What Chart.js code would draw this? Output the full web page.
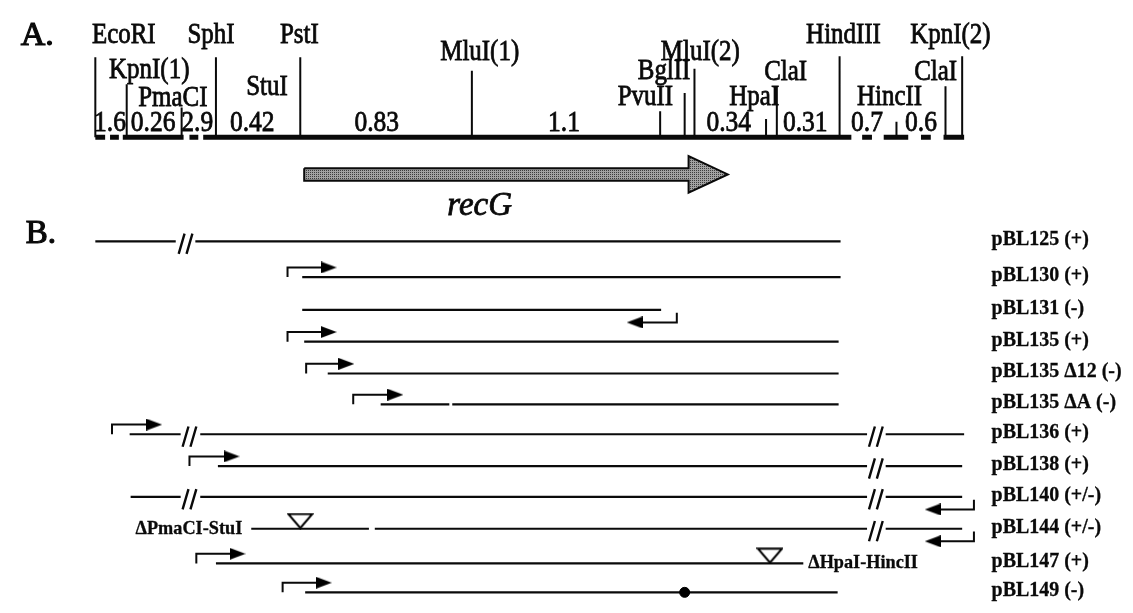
<!DOCTYPE html>
<html>
<head>
<meta charset="utf-8">
<script src="https://cdn.jsdelivr.net/npm/chart.js@4"></script>
<style>
  html, body { margin: 0; padding: 0; background: #fff; }
  #wrap { width: 1133px; height: 613px; position: relative; }
</style>
</head>
<body>
<div id="wrap"><canvas id="map"></canvas></div>
<script>
// A. restriction map  (x = position along the map, y = row on the page)
const mapY = 131
const mapPieces = [[86,96],[101,110],[114,176],[182,191],[196,857],[868,878],[890,915],[928,938],[951,972]]
const siteX   = [86, 118, 174, 209, 295, 470, 662, 687, 697, 770, 781, 845, 903, 953, 970]
const siteTop = [48, 76, 100, 48, 48, 62, 104, 85, 60, 112, 78, 47, 115, 78, 47]

const siteLabels = ['EcoRI','KpnI(1)','PmaCI','SphI','StuI','PstI','MluI(1)','PvuII','BglII','MluI(2)','HpaI','ClaI','HindIII','HincII','ClaI','KpnI(2)']
const siteLabelX = [115, 141, 165, 204, 261, 294, 478, 647, 666, 703, 758, 790, 849, 896, 943, 958]
const siteLabelY = [33, 69, 99, 33, 87, 33, 51, 97, 71, 51, 97, 72, 33, 97, 72, 33]

const fragSizes = ['1.6','0.26','2.9','0.42','0.83','1.1','0.34','0.31','0.7','0.6']
const fragX     = [101, 145, 190, 246, 373, 564, 732, 810, 873, 928]
const fragY = 124

const geneName = 'recG'
const geneStart = 299, geneEnd = 731, geneY = 169.5

// B. subclones
const constructs = ['pBL125 (+)','pBL130 (+)','pBL131 (-)','pBL135 (+)','pBL135 Δ12 (-)','pBL135 ΔA (-)',
                    'pBL136 (+)','pBL138 (+)','pBL140 (+/-)','pBL144 (+/-)','pBL147 (+)','pBL149 (-)']
const rowY = [239, 276, 310, 343, 376, 408, 439, 472, 504, 537, 573, 603]
const spans = [
  [[86,168],[188,846]],
  [[297,846]],
  [[297,663]],
  [[299,844]],
  [[323,844]],
  [[377,447],[450,844]],
  [[121,173],[193,873],[892,972]],
  [[211,873],[892,970]],
  [[122,173],[193,873],[892,970]],
  [[245,365],[371,873],[892,970]],
  [[209,808]],
  [[300,843]]
]
const breaks = [[0,178],[6,182],[6,882],[7,882],[8,182],[8,882],[9,882]]        // [row, x]
const fwdPromoters = [[1,282,332],[3,282,332],[4,301,350],[5,349,400],[6,103,154],[7,182,233],[10,189,239],[11,277,327]] // [row, bend x, tip x]
const revPromoters = [[2,679,628],[8,982,932],[9,982,932]]
const deletions = [[9,295],[10,774]]                                            // [row, x]
const deletionNames = [[9,'ΔPmaCI-StuI',127],[10,'ΔHpaI-HincII',813]]
const mutations = [[11,687]]

// helpers
function polylines(list) {
  const out = []
  list.forEach(pl => {
    pl.forEach(p => out.push({x: p[0], y: p[1]}))
    out.push({x: pl[0][0], y: null})
  })
  return out
}

function sprite(w, h, draw) {
  const c = document.createElement('canvas')
  c.width = w; c.height = h
  draw(c.getContext('2d'))
  return c
}
const headRight = sprite(16, 12, g => { g.fillStyle = '#000'; g.beginPath(); g.moveTo(0,0); g.lineTo(16,6); g.lineTo(0,12); g.closePath(); g.fill() })
const headLeft  = sprite(16, 12, g => { g.fillStyle = '#000'; g.beginPath(); g.moveTo(16,0); g.lineTo(0,6); g.lineTo(16,12); g.closePath(); g.fill() })
const delta = sprite(27, 17, g => {
  g.fillStyle = '#fff'; g.strokeStyle = '#000'; g.lineWidth = 2
  g.beginPath(); g.moveTo(1.5,1.5); g.lineTo(25.5,1.5); g.lineTo(13.5,15.5); g.closePath(); g.fill(); g.stroke()
})
const stipple = (() => {
  const c = sprite(4, 4, g => {
    g.fillStyle = '#a2a2a2'; g.fillRect(0,0,4,4)
    g.fillStyle = '#3c3c3c'; g.fillRect(0,0,1,1); g.fillRect(2,2,1,1); g.fillRect(2,0,1,1); g.fillRect(0,2,1,1)
  })
  return document.getElementById('map').getContext('2d').createPattern(c, 'repeat')
})()

// build line data
const baseData = polylines(mapPieces.map(p => [[p[0], mapY], [p[1], mapY]]))
const tickData = polylines(siteX.map((x, i) => [[x, mapY], [x, siteTop[i]]]))

const geneHalf = 6.5, geneHead = 19, geneHeadLen = 40
const geneData = [
  {x: geneStart, y: geneY - geneHalf}, {x: geneEnd - geneHeadLen, y: geneY - geneHalf},
  {x: geneEnd - geneHeadLen, y: geneY - geneHead}, {x: geneEnd, y: geneY},
  {x: geneEnd - geneHeadLen, y: geneY + geneHead}, {x: geneEnd - geneHeadLen, y: geneY + geneHalf},
  {x: geneStart, y: geneY + geneHalf}, {x: geneStart, y: geneY - geneHalf}
]

const cloneLines = []
spans.forEach((row, i) => row.forEach(s => cloneLines.push([[s[0], rowY[i]], [s[1], rowY[i]]])))
const cloneData = polylines(cloneLines)

const slashLines = []
breaks.forEach(([r, bx]) => {
  const y = rowY[r]
  slashLines.push([[bx - 7, y + 13], [bx - 1, y - 8]])
  slashLines.push([[bx + 1, y + 13], [bx + 7, y - 8]])
})
const slashData = polylines(slashLines)

const bendLines = [], fwdHeads = [], revHeads = []
fwdPromoters.forEach(([r, bx, tip]) => {
  const y = rowY[r]
  bendLines.push([[bx, y], [bx, y - 10], [tip - 14, y - 10]])
  fwdHeads.push({x: tip - 8, y: y - 10})
})
revPromoters.forEach(([r, bx, tip]) => {
  const y = rowY[r]
  bendLines.push([[bx, y + 3], [bx, y + 13], [tip + 14, y + 13]])
  revHeads.push({x: tip + 8, y: y + 13})
})
const bendData = polylines(bendLines)

const deltaData = deletions.map(([r, x]) => ({x, y: rowY[r] - 8}))
const dotData = mutations.map(([r, x]) => ({x, y: rowY[r]}))

// text
const serif = '"Liberation Serif", "Times New Roman", serif'
const textPlugin = {
  id: 'mapText',
  afterDatasetsDraw(chart) {
    const {ctx, scales: {x, y}} = chart
    const put = (str, vx, vy, font, align, sx, heavy) => {
      ctx.save()
      ctx.font = font
      ctx.textAlign = align
      ctx.textBaseline = 'alphabetic'
      ctx.fillStyle = '#0a0a0a'
      ctx.strokeStyle = '#0a0a0a'
      ctx.translate(x.getPixelForValue(vx), y.getPixelForValue(vy))
      ctx.scale(sx, 1)
      ctx.fillText(str, 0, 0)
      if (heavy) { ctx.lineWidth = heavy; ctx.strokeText(str, 0, 0) }
      ctx.restore()
    }
    put('A.', 10, 35, '34px ' + serif, 'left', 1, 1.2)
    put('B.', 15, 241, '33px ' + serif, 'left', 1, 1.2)
    siteLabels.forEach((s, i) => put(s, siteLabelX[i], siteLabelY[i], '29px ' + serif, 'center', 0.86, 0.8))
    fragSizes.forEach((s, i) => put(s, fragX[i], fragY, '29px ' + serif, 'center', 0.88, 0.8))
    put(geneName, 478, 212, 'italic 33px ' + serif, 'center', 1, 0.8)
    constructs.forEach((s, i) => put(s, 1000, rowY[i] + 4, 'bold 21px ' + serif, 'left', 0.95, 0.3))
    deletionNames.forEach(([r, s, lx]) => put(s, lx, rowY[r] + 5, 'bold 19px ' + serif, 'left', 0.96, 0.3))
  }
}

const line = (data, width, extra) => Object.assign({
  data, showLine: true, borderColor: '#0a0a0a', borderWidth: width,
  pointRadius: 0, fill: false, tension: 0, spanGaps: false
}, extra || {})

new Chart(document.getElementById('map'), {
  type: 'scatter',
  data: {
    datasets: [
      {data: deltaData, pointStyle: delta, pointRadius: 10, showLine: false},
      {data: dotData, pointStyle: 'circle', pointRadius: 5, backgroundColor: '#000', borderColor: '#000', showLine: false},
      {data: fwdHeads, pointStyle: headRight, pointRadius: 8, showLine: false},
      {data: revHeads, pointStyle: headLeft, pointRadius: 8, showLine: false},
      line(bendData, 2),
      line(slashData, 2.4),
      line(cloneData, 2.2),
      line(geneData, 2, {fill: 'shape', backgroundColor: stipple}),
      line(tickData, 2),
      line(baseData, 5)
    ]
  },
  options: {
    responsive: true,
    maintainAspectRatio: false,
    animation: false,
    layout: {padding: 0},
    events: [],
    scales: {
      x: {type: 'linear', min: 0, max: 1133, display: false},
      y: {type: 'linear', min: 0, max: 613, reverse: true, display: false}
    },
    plugins: {legend: {display: false}, tooltip: {enabled: false}}
  },
  plugins: [textPlugin]
})
</script>
</body>
</html>
